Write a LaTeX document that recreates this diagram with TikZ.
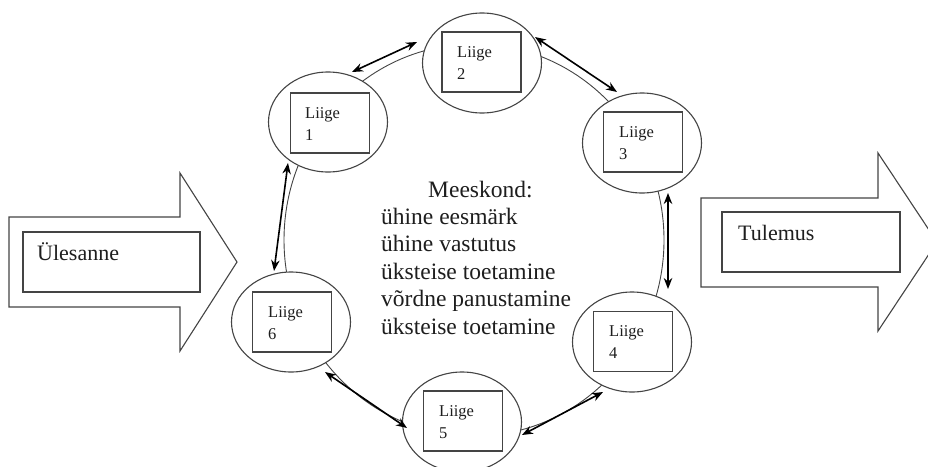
\documentclass[tikz,border=0pt]{standalone}
\usepackage{fontspec}
\setmainfont{Liberation Serif}
\usetikzlibrary{shapes.geometric,arrows.meta}
\definecolor{lin}{HTML}{444444}
\definecolor{txt}{HTML}{1e1e1e}
\tikzset{
  member/.style={draw=lin, line width=1.1pt, fill=white, ellipse, minimum width=119pt, minimum height=100pt, inner sep=0pt},
  mbox/.style={draw=lin, line width=1.1pt, minimum width=79pt, minimum height=60pt, inner sep=0pt},
  mtext/.style={anchor=base west, inner sep=0pt, text=txt, font=\fontsize{16.5}{22}\selectfont, align=left},
  bigarrow/.style={draw=lin, line width=1.1pt, fill=white},
  ibox/.style={draw=lin, line width=1.1pt, inner sep=0pt},
  link/.style={{Stealth[length=11pt,width=8.5pt]}-{Stealth[length=11pt,width=8.5pt]}, line width=1.6pt, black},
  ring/.style={draw=lin, line width=0.9pt}
}
\begin{document}
\begin{tikzpicture}[x=1pt,y=-1pt]
\useasboundingbox (0,0) rectangle (928,466);
\clip (0,0) rectangle (928,466);
\fill[white] (0,0) rectangle (928,466);
% big arrows
\draw[bigarrow] (9,217) -- (180,217) -- (180,173) -- (237,262) -- (180,351) -- (180,307) -- (9,307) -- cycle;
\node[ibox, minimum width=177pt, minimum height=60pt] (task) at (111.5,262) {};
\node[anchor=base west, inner sep=0pt, text=txt, font=\fontsize{22}{26}\selectfont] (tasklbl) at (37,260) {Ülesanne};
\draw[bigarrow] (701,198) -- (878,198) -- (878,153) -- (937,242) -- (878,331) -- (878,287) -- (701,287) -- cycle;
\node[ibox, minimum width=178pt, minimum height=60pt] (res) at (811,242) {};
\node[anchor=base west, inner sep=0pt, text=txt, font=\fontsize{22}{26}\selectfont] (reslbl) at (738,240) {Tulemus};
% ring
\draw[ring] (474,240) ellipse (190 and 196);
% members
\node[member] (m1) at (328,122) {};
\node[member] (m2) at (482,63) {};
\node[member] (m3) at (642,143) {};
\node[member] (m4) at (632,342) {};
\node[member] (m5) at (462,422) {};
\node[member] (m6) at (291,322) {};
\node[mbox] (b1) at (330,123) {};
\node[mbox] (b2) at (481.5,62) {};
\node[mbox] (b3) at (643,142) {};
\node[mbox] (b4) at (633,341.5) {};
\node[mbox] (b5) at (463,421) {};
\node[mbox] (b6) at (292,322) {};
\node[mtext] (t1) at (305,140) {Liige\\1};
\node[mtext] (t2) at (457,79) {Liige\\2};
\node[mtext] (t3) at (619,159) {Liige\\3};
\node[mtext] (t4) at (609,358) {Liige\\4};
\node[mtext] (t5) at (439,438) {Liige\\5};
\node[mtext] (t6) at (268,339) {Liige\\6};
% links
\coordinate (a12) at (352,72); \coordinate (a21) at (417,42);
\coordinate (a23) at (535,37); \coordinate (a32) at (617,92);
\coordinate (a34) at (668,193); \coordinate (a43) at (668,289);
\coordinate (a45) at (603,392); \coordinate (a54) at (522,435);
\coordinate (a56) at (407,428); \coordinate (a65) at (325,372);
\coordinate (a61) at (274,271); \coordinate (a16) at (288,163);
\draw[link] (a12) -- (a21);
\draw[link] (a23) -- (a32);
\draw[link] (a34) -- (a43);
\draw[link] (a45) -- (a54);
\draw[link] (a56) -- (a65);
\draw[link] (a61) -- (a16);
% centre text
\node[anchor=base west, inner sep=0pt, text=txt, font=\fontsize{23.5}{27.5}\selectfont] (title) at (428,197) {Meeskond:};
\node[anchor=base west, inner sep=0pt, text=txt, font=\fontsize{23.5}{27.5}\selectfont, align=left] (list) at (381,334) {ühine eesmärk\\ühine vastutus\\üksteise toetamine\\võrdne panustamine\\üksteise toetamine};
\end{tikzpicture}
\end{document}
